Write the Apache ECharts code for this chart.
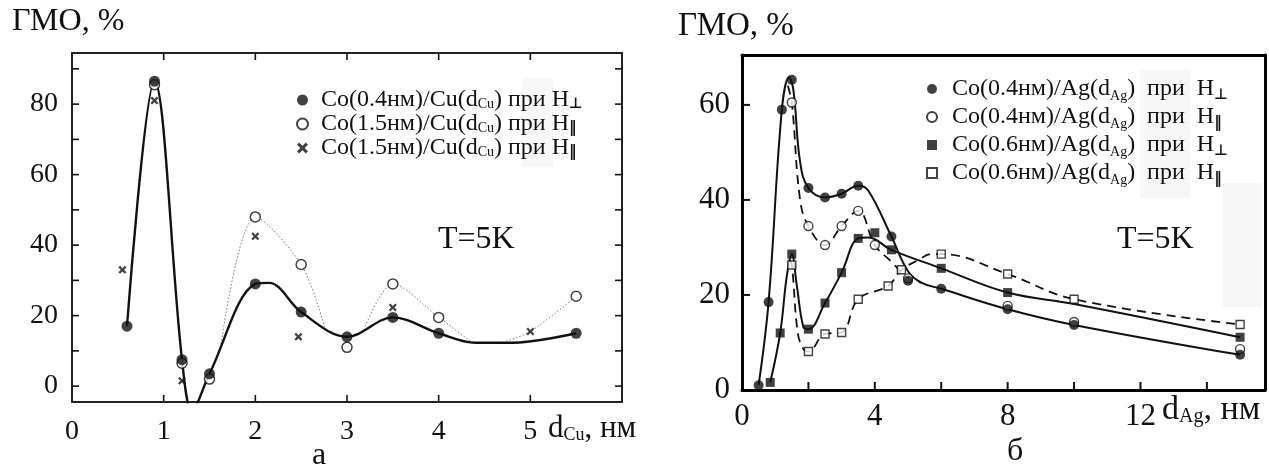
<!DOCTYPE html>
<html><head><meta charset="utf-8">
<script src="https://cdn.jsdelivr.net/npm/echarts@6/dist/echarts.min.js"></script>
<style>html,body{margin:0;padding:0;background:#fff}#c{width:1269px;height:475px}</style>
</head><body><div id="c"></div>
<script>
// ---------- Panel а : Co/Cu ----------
const cuFilledX = [0.6, 0.9, 1.2, 1.5, 2.0, 2.5, 3.0, 3.5, 4.0, 5.5];
const cuFilledY = [17, 86.5, 7.5, 3.5, 29, 21, 14, 19.5, 15, 15];
const cuOpenX = [0.9, 1.2, 1.5, 2.0, 2.5, 3.0, 3.5, 4.0, 5.5];
const cuOpenY = [85.5, 6.5, 2, 48, 34.5, 11, 29, 19.5, 25.5];
const cuCrossX = [0.55, 0.9, 1.2, 2.0, 2.47, 3.5, 5.0];
const cuCrossY = [33, 81, 1.5, 42.5, 14, 22.3, 15.5];
// guide curves
const cuSolidX = [0.6, 0.9, 1.2, 1.31, 1.5, 2.0, 2.15, 2.5, 3.0, 3.5, 4.0, 4.4, 4.8, 5.5];
const cuSolidY = [17, 86.5, 7.5, -7, 3.5, 29, 29.3, 21, 14, 19.5, 15, 12.3, 12.3, 15];
const cuDotX = [1.62, 2.0, 2.5, 2.76, 2.9, 3.2, 3.5, 4.0, 4.37, 4.5, 4.7, 5.0, 5.5];
const cuDotY = [11, 48, 34.5, 16.5, '-', 17, 29, 19.5, 12.3, '-', 12.4, 15.5, 25.5];
const cuXLabels = [0, 1, 2, 3, 4, 5];
const cuXTicks = [1, 2, 3, 4, 5];
const cuYLabels = [0, 20, 40, 60, 80];
const cuYTicks = [0, 10, 20, 30, 40, 50, 60, 70, 80, 90];

// ---------- Panel б : Co/Ag ----------
const ag1X = [0.5, 0.8, 1.2, 1.5, 2.0, 2.5, 3.0, 3.5, 4.5, 5.0, 6.0, 8.0, 10.0, 15.0];
const ag1Y = [1, 18.5, 59, 65.3, 42.5, 40.5, 41.3, 43, 32.3, 23, 21.3, 17, 13.7, 7.4];
const ag2X = [1.5, 2.0, 2.5, 3.0, 3.5, 4.0, 5.0, 8.0, 10.0, 15.0];
const ag2Y = [60.5, 34.5, 30.5, 34.5, 37.7, 30.5, 23.5, 17.7, 14.3, 8.6];
const ag3X = [0.85, 1.15, 1.5, 2.0, 2.5, 3.0, 3.5, 4.0, 4.5, 6.0, 8.0, 15.0];
const ag3Y = [1.6, 12, 28.6, 12.8, 18.3, 24.7, 31.9, 33.1, 29.5, 25.6, 20.5, 11.1];
const ag4X = [1.5, 2.0, 2.5, 3.0, 3.5, 4.4, 4.8, 6.0, 8.0, 10.0, 15.0];
const ag4Y = [26.3, 8.1, 11.8, 12.1, 19.1, 21.9, 25.3, 28.6, 24.4, 19.1, 13.8];
// guide curves
const agC1X = [0.5, 0.8, 1.2, 1.42, 1.55, 1.75, 2.0, 2.5, 3.0, 3.5, 3.8, 4.5, 5.0, 5.4, 6.0, 8.0, 10.0, 15.0];
const agC1Y = [1, 18.5, 59, 65.8, 63, 48, 42.5, 40.5, 41.3, 43, 42, 32.3, 25, 22.6, 21.3, 17, 13.7, 7.4];
const agC2X = [1.38, 1.5, 1.75, 2.0, 2.5, 3.0, 3.5, 4.0, 4.5, 5.0, 5.4];
const agC2Y = [64, 60.5, 40, 34.5, 30.5, 34.5, 37.7, 30.5, 27, 23.5, 22.6];
const agC3X = [0.85, 1.15, 1.35, 1.5, 1.65, 1.85, 2.0, 2.5, 3.0, 3.5, 3.8, 4.5, 6.0, 8.0, 10.0, 15.0];
const agC3Y = [1.6, 12, 24, 28.6, 22, 13.2, 12.8, 18.3, 24.7, 31.9, 32.1, 29.5, 25.6, 20.5, 18.1, 11.1];
const agC4X = [1.42, 1.5, 1.68, 1.85, 2.0, 2.5, 3.0, 3.5, 4.4, 4.8, 5.3, 5.7, 6.0, 8.0, 10.0, 15.0];
const agC4Y = [27.5, 26.3, 12, 8.6, 8.1, 11.8, 12.1, 19.1, 21.9, 25.3, 27.3, 28.6, 28.6, 24.4, 19.1, 13.8];
const agXLabels = [0, 4, 8, 12];
const agXTicks = [2, 4, 6, 8, 10, 12, 14];
const agYLabels = [0, 20, 40, 60];
const agYTicks = [20, 40, 60];

const pts = (xs, ys) => xs.map((x, i) => [x, ys[i]]);
const SERIF = 'Liberation Serif';
const INK = '#111';
const crossPath = 'path://M0,2 L2,0 L5,3 L8,0 L10,2 L7,5 L10,8 L8,10 L5,7 L2,10 L0,8 L3,5 Z';

const legendNames = {
  'a1': 'Co(0.4нм)/Cu(d{s|Cu}) при H{h|⊥}',
  'a2': 'Co(1.5нм)/Cu(d{s|Cu}) при H{p|‖}',
  'a3': 'Co(1.5нм)/Cu(d{s|Cu}) при H{p|‖}',
  'b1': 'Co(0.4нм)/Ag(d{s|Ag})  при  H{h|⊥}',
  'b2': 'Co(0.4нм)/Ag(d{s|Ag})  при  H{p|‖}',
  'b3': 'Co(0.6нм)/Ag(d{s|Ag})  при  H{h|⊥}',
  'b4': 'Co(0.6нм)/Ag(d{s|Ag})  при  H{p|‖}'
};
function richFor(fs) {
  return {
    s: {fontFamily: SERIF, fontSize: Math.round(fs * 0.6), color: INK, lineHeight: 8, verticalAlign: 'bottom'},
    h: {fontFamily: 'DejaVu Sans', fontSize: Math.round(fs * 0.62), fontWeight: 'bold', color: INK, lineHeight: 8, verticalAlign: 'bottom'},
    p: {fontFamily: 'DejaVu Sans', fontSize: Math.round(fs * 0.62), fontWeight: 'bold', color: INK, lineHeight: 8, verticalAlign: 'bottom'}
  };
}

const lineA = {show: true, onZero: false, lineStyle: {color: '#222', width: 2}};
const lineB = {show: true, onZero: false, lineStyle: {color: '#000', width: 3}};
const noTick = {show: false};
const baseGraphic = [
  {id: 'r1', type: 'rect', shape: {x: 1223, y: 183, width: 39, height: 124}, style: {fill: '#f6f6f6'}, z: -1},
  {id: 'r2', type: 'rect', shape: {x: 1140, y: 70, width: 50, height: 128}, style: {fill: '#f7f7f7'}, z: -1},
  {id: 'r3', type: 'rect', shape: {x: 522, y: 78, width: 31, height: 89}, style: {fill: '#f8f8f8'}, z: -1},
  {id: 't1', type: 'text', left: 12, top: 6, style: {text: 'ГМО, %', fontFamily: SERIF, fontSize: 32, fill: INK}},
  {id: 't2', type: 'text', left: 678, top: 10, style: {text: 'ГМО, %', fontFamily: SERIF, fontSize: 33, fill: INK}},
  {id: 't3', type: 'text', left: 438, top: 224, style: {text: 'T=5K', fontFamily: SERIF, fontSize: 32, fill: INK}},
  {id: 't4', type: 'text', left: 1117, top: 224, style: {text: 'T=5K', fontFamily: SERIF, fontSize: 32, fill: INK}},
  {id: 't5', type: 'text', left: 548, top: 413, style: {text: 'd{s|Cu}, нм', fontFamily: SERIF, fontSize: 31, fill: INK,
    rich: {s: {fontFamily: SERIF, fontSize: 18, fill: INK, lineHeight: 10, verticalAlign: 'bottom'}}}},
  {id: 't6', type: 'text', left: 1162, top: 393, style: {text: 'd{s|Ag}, нм', fontFamily: SERIF, fontSize: 34, fill: INK,
    rich: {s: {fontFamily: SERIF, fontSize: 20, fill: INK, lineHeight: 10, verticalAlign: 'bottom'}}}},
  {id: 't7', type: 'text', left: 312, top: 440, style: {text: 'а', fontFamily: SERIF, fontSize: 32, fill: INK}},
  {id: 't8', type: 'text', left: 1007, top: 436, style: {text: 'б', fontFamily: SERIF, fontSize: 32, fill: INK}}
];

const chart = echarts.init(document.getElementById('c'), null, {renderer: 'canvas'});
const option = {
  animation: false,
  backgroundColor: '#fff',
  grid: [
    {left: 72, top: 53, width: 550, height: 349, show: false},
    {left: 742, top: 55, width: 523, height: 335, show: false}
  ],
  xAxis: [
    {gridIndex: 0, type: 'value', min: 0, max: 6, interval: 1, position: 'bottom',
      axisLine: lineA, splitLine: {show: false}, axisTick: noTick,
      axisLabel: {customValues: cuXLabels, margin: 16, fontFamily: SERIF, fontSize: 28, color: INK}},
    {gridIndex: 0, type: 'value', min: 0, max: 6, interval: 1, position: 'top',
      axisLine: lineA, splitLine: {show: false}, axisTick: noTick, axisLabel: {show: false}},
    {gridIndex: 1, type: 'value', min: 0, max: 15.75, interval: 2, position: 'bottom',
      axisLine: lineB, splitLine: {show: false}, axisTick: noTick,
      axisLabel: {customValues: agXLabels, margin: 11, fontFamily: SERIF, fontSize: 31, color: INK}},
    {gridIndex: 1, type: 'value', min: 0, max: 15.75, position: 'top',
      axisLine: lineB, splitLine: {show: false}, axisTick: noTick, axisLabel: {show: false}}
  ],
  yAxis: [
    {gridIndex: 0, type: 'value', min: -4.5, max: 94.5, splitNumber: 10, position: 'left',
      axisLine: lineA, splitLine: {show: false}, axisTick: noTick,
      axisLabel: {customValues: cuYLabels, margin: 14, fontFamily: SERIF, fontSize: 28, color: INK}},
    {gridIndex: 0, type: 'value', min: -4.5, max: 94.5, splitNumber: 10, position: 'right',
      axisLine: lineA, splitLine: {show: false}, axisTick: noTick, axisLabel: {show: false}},
    {gridIndex: 1, type: 'value', min: 0, max: 70.5, interval: 20, position: 'left',
      axisLine: lineB, splitLine: {show: false}, axisTick: noTick,
      axisLabel: {customValues: agYLabels, margin: 12, fontFamily: SERIF, fontSize: 31, color: INK}},
    {gridIndex: 1, type: 'value', min: 0, max: 70.5, position: 'right',
      axisLine: lineB, splitLine: {show: false}, axisTick: noTick, axisLabel: {show: false}}
  ],
  legend: [
    {orient: 'vertical', left: 291, top: 83, itemWidth: 11, itemHeight: 11, itemGap: 0,
      data: [{name: 'a1'}, {name: 'a2'}, {name: 'a3'}],
      formatter: n => legendNames[n], selectedMode: false,
      textStyle: {fontFamily: SERIF, fontSize: 24, color: INK, lineHeight: 23.5, padding: [0, 0, 0, 8], rich: richFor(24)}},
    {orient: 'vertical', left: 921, top: 70, itemWidth: 10, itemHeight: 10, itemGap: 0,
      data: [{name: 'b1'}, {name: 'b2'}, {name: 'b3'}, {name: 'b4'}],
      formatter: n => legendNames[n], selectedMode: false,
      textStyle: {fontFamily: SERIF, fontSize: 24, color: INK, lineHeight: 28, padding: [0, 0, 0, 10], rich: richFor(24)}}
  ],
  graphic: baseGraphic,
  series: [
    // panel а curves
    {type: 'line', xAxisIndex: 0, yAxisIndex: 0, data: pts(cuDotX, cuDotY), smooth: 0.3, showSymbol: false, silent: true,
      lineStyle: {color: '#777', width: 1, type: [1.5, 2]}, z: 1},
    {type: 'line', xAxisIndex: 0, yAxisIndex: 0, data: pts(cuSolidX, cuSolidY), smooth: 0.35, showSymbol: false, silent: true,
      lineStyle: {color: '#111', width: 2.4}, z: 2},
    {name: 'a2', type: 'scatter', xAxisIndex: 0, yAxisIndex: 0, data: pts(cuOpenX, cuOpenY), symbol: 'circle', symbolSize: 10,
      itemStyle: {color: '#fff', borderColor: '#111', borderWidth: 1.5}, z: 3},
    {name: 'a1', type: 'scatter', xAxisIndex: 0, yAxisIndex: 0, data: pts(cuFilledX, cuFilledY), symbol: 'circle', symbolSize: 11,
      itemStyle: {color: '#111'}, z: 4},
    {name: 'a3', type: 'scatter', xAxisIndex: 0, yAxisIndex: 0, data: pts(cuCrossX, cuCrossY), symbol: crossPath, symbolSize: 8,
      itemStyle: {color: '#111'}, z: 5},
    // panel б curves
    {type: 'line', xAxisIndex: 2, yAxisIndex: 2, data: pts(agC2X, agC2Y), smooth: 0.4, showSymbol: false, silent: true,
      lineStyle: {color: '#111', width: 1.8, type: [9, 6]}, z: 1},
    {type: 'line', xAxisIndex: 2, yAxisIndex: 2, data: pts(agC4X, agC4Y), smooth: 0.4, showSymbol: false, silent: true,
      lineStyle: {color: '#111', width: 1.8, type: [9, 6]}, z: 1},
    {type: 'line', xAxisIndex: 2, yAxisIndex: 2, data: pts(agC1X, agC1Y), smooth: 0.4, showSymbol: false, silent: true,
      lineStyle: {color: '#111', width: 2}, z: 2},
    {type: 'line', xAxisIndex: 2, yAxisIndex: 2, data: pts(agC3X, agC3Y), smooth: 0.4, showSymbol: false, silent: true,
      lineStyle: {color: '#111', width: 2}, z: 2},
    {name: 'b2', type: 'scatter', xAxisIndex: 2, yAxisIndex: 2, data: pts(ag2X, ag2Y), symbol: 'circle', symbolSize: 9,
      itemStyle: {color: '#fff', borderColor: '#111', borderWidth: 1.4}, z: 3},
    {name: 'b4', type: 'scatter', xAxisIndex: 2, yAxisIndex: 2, data: pts(ag4X, ag4Y), symbol: 'rect', symbolSize: 8,
      itemStyle: {color: '#fff', borderColor: '#111', borderWidth: 1.4}, z: 3},
    {name: 'b1', type: 'scatter', xAxisIndex: 2, yAxisIndex: 2, data: pts(ag1X, ag1Y), symbol: 'circle', symbolSize: 10,
      itemStyle: {color: '#111'}, z: 4},
    {name: 'b3', type: 'scatter', xAxisIndex: 2, yAxisIndex: 2, data: pts(ag3X, ag3Y), symbol: 'rect', symbolSize: 9,
      itemStyle: {color: '#111'}, z: 4}
  ]
};
chart.setOption(option);

// inward tick marks, positioned through the axes' own scales
function tickMarks() {
  const out = [];
  const seg = (id, x1, y1, x2, y2, w) => out.push({id, type: 'line', silent: true, z: 10,
    shape: {x1, y1, x2, y2}, style: {stroke: INK, lineWidth: w}});
  const xp = (ai, v) => chart.convertToPixel({xAxisIndex: ai}, v);
  const yp = (ai, v) => chart.convertToPixel({yAxisIndex: ai}, v);
  // panel а
  const aTop = yp(0, 94.5), aBot = yp(0, -4.5), aL = xp(0, 0), aR = xp(0, 6);
  cuXTicks.forEach((v, i) => {
    const x = xp(0, v);
    seg('axb' + i, x, aBot, x, aBot - 7, 1.6);
    seg('axt' + i, x, aTop, x, aTop + 7, 1.6);
  });
  cuYTicks.forEach((v, i) => {
    const y = yp(0, v);
    seg('ayl' + i, aL, y, aL + 7, y, 1.6);
    seg('ayr' + i, aR, y, aR - 7, y, 1.6);
  });
  // panel б
  const bBot = yp(2, 0), bL = xp(2, 0);
  agXTicks.forEach((v, i) => { const x = xp(2, v); seg('bxb' + i, x, bBot, x, bBot - 8, 2); });
  agYTicks.forEach((v, i) => { const y = yp(2, v); seg('byl' + i, bL, y, bL + 8, y, 2); });
  return out;
}
chart.setOption({graphic: baseGraphic.concat(tickMarks())});
</script></body></html>
